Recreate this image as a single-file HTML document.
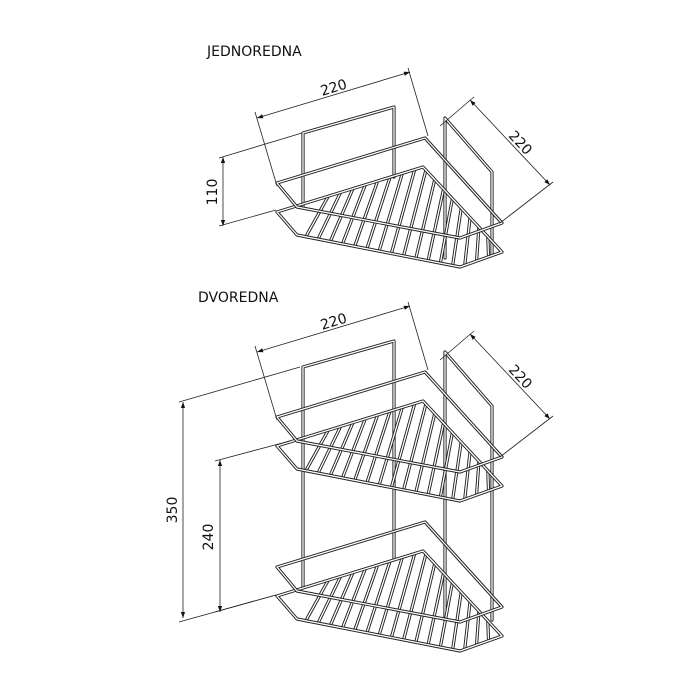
<!DOCTYPE html>
<html><head><meta charset="utf-8"><style>
html,body{margin:0;padding:0;background:#fff;}
svg{display:block}
text{font-family:"DejaVu Sans","Liberation Sans",sans-serif;fill:#111;}
</style></head><body>
<svg id="s" width="700" height="700" viewBox="0 0 700 700" xmlns="http://www.w3.org/2000/svg">
<defs>
<marker id="ar" viewBox="0 0 10 10" refX="10" refY="5" markerWidth="9" markerHeight="6" orient="auto-start-reverse" markerUnits="userSpaceOnUse"><path d="M0,1.5 L10,5 L0,8.5 z" fill="#111"/></marker>
</defs>
<text x="207" y="56" font-size="14">JEDNOREDNA</text>
<text x="198" y="302" font-size="14">DVOREDNA</text>
<g id="g"></g>
</svg>
<script>
const g=document.getElementById('g');
const NS='http://www.w3.org/2000/svg';
function el(t,a){const e=document.createElementNS(NS,t);for(const k in a)e.setAttribute(k,a[k]);g.appendChild(e);return e;}
function tube(pts,closed,dy){
  const d='M'+pts.map(p=>p[0]+','+(p[1]+dy)).join(' L')+(closed?' Z':'');
  el('path',{d,fill:'none',stroke:'#222','stroke-width':3.2,'stroke-linejoin':'round','stroke-linecap':'round'});
  el('path',{d,fill:'none',stroke:'#fff','stroke-width':1.3,'stroke-linejoin':'round','stroke-linecap':'round'});
}
function line(x1,y1,x2,y2,w,m){const a={x1,y1,x2,y2,stroke:'#222','stroke-width':w||0.8};if(m){a['marker-start']='url(#ar)';a['marker-end']='url(#ar)';}el('line',a);}
function lerpPoly(poly,t){let L=[],tot=0;for(let i=1;i<poly.length;i++){const l=Math.hypot(poly[i][0]-poly[i-1][0],poly[i][1]-poly[i-1][1]);L.push(l);tot+=l;}
 let d=t*tot;for(let i=0;i<L.length;i++){if(d<=L[i]||i==L.length-1){const f=d/L[i];return [poly[i][0]+(poly[i+1][0]-poly[i][0])*f,poly[i][1]+(poly[i+1][1]-poly[i][1])*f];}d-=L[i];}}
function basket(dy){
  const top=[[277,183],[425,138],[502,223],[460,238],[297,207]];
  const bot=[[277,212],[423,167],[502,252],[460,267],[297,235]];
  const front=[[302,236],[460,265],[494,253]];
  const back=[[324,198],[423,168],[492,241]];
  for(let i=0;i<16;i++){const t=0.02+i*0.95/15;const a=lerpPoly(front,t),b=lerpPoly(back,t);
    tube([a,b],false,dy);}
  tube(bot,true,dy);
  tube(top,true,dy);
}
function text(x,y,s,rot){const e=el('text',{x,y,'font-size':14,'text-anchor':'middle',transform:`rotate(${rot} ${x} ${y})`});e.textContent=s;}
tube([[303,207],[303,133],[394,107],[394,177]],false,0);
tube([[445,258],[445,118],[492,172],[492,255]],false,0);
basket(0);
line(257,118,410,72,0.8,true);line(255,112,277,186);line(408,68,428,136);
text(335,92,'220',-17);
line(470,100,550,185,0.8,true);line(440,126,474,97);line(500,223,553,182);
text(517,146,'220',47);
line(223,157,223,226,0.8,true);line(219,158,302,133);line(219,226,276,210);
text(217,192,'110',-90);
tube([[303,587],[303,367],[394,341],[394,560]],false,0);
tube([[445,620],[445,352],[492,406],[492,620]],false,0);
basket(234);
basket(384);
line(257,352,410,306,0.8,true);line(255,346,277,420);line(408,302,428,370);
text(335,326,'220',-17);
line(470,334,550,419,0.8,true);line(440,360,474,331);line(500,457,553,416);
text(517,380,'220',47);
line(183,402,183,618,0.8,true);line(179,402,300,367);line(179,622,276,595);
text(177,510,'350',-90);
line(220,460,220,612,0.8,true);line(215,461,290,441);line(215,612,276,595);
text(213,537,'240',-90);
</script>
</body></html>
